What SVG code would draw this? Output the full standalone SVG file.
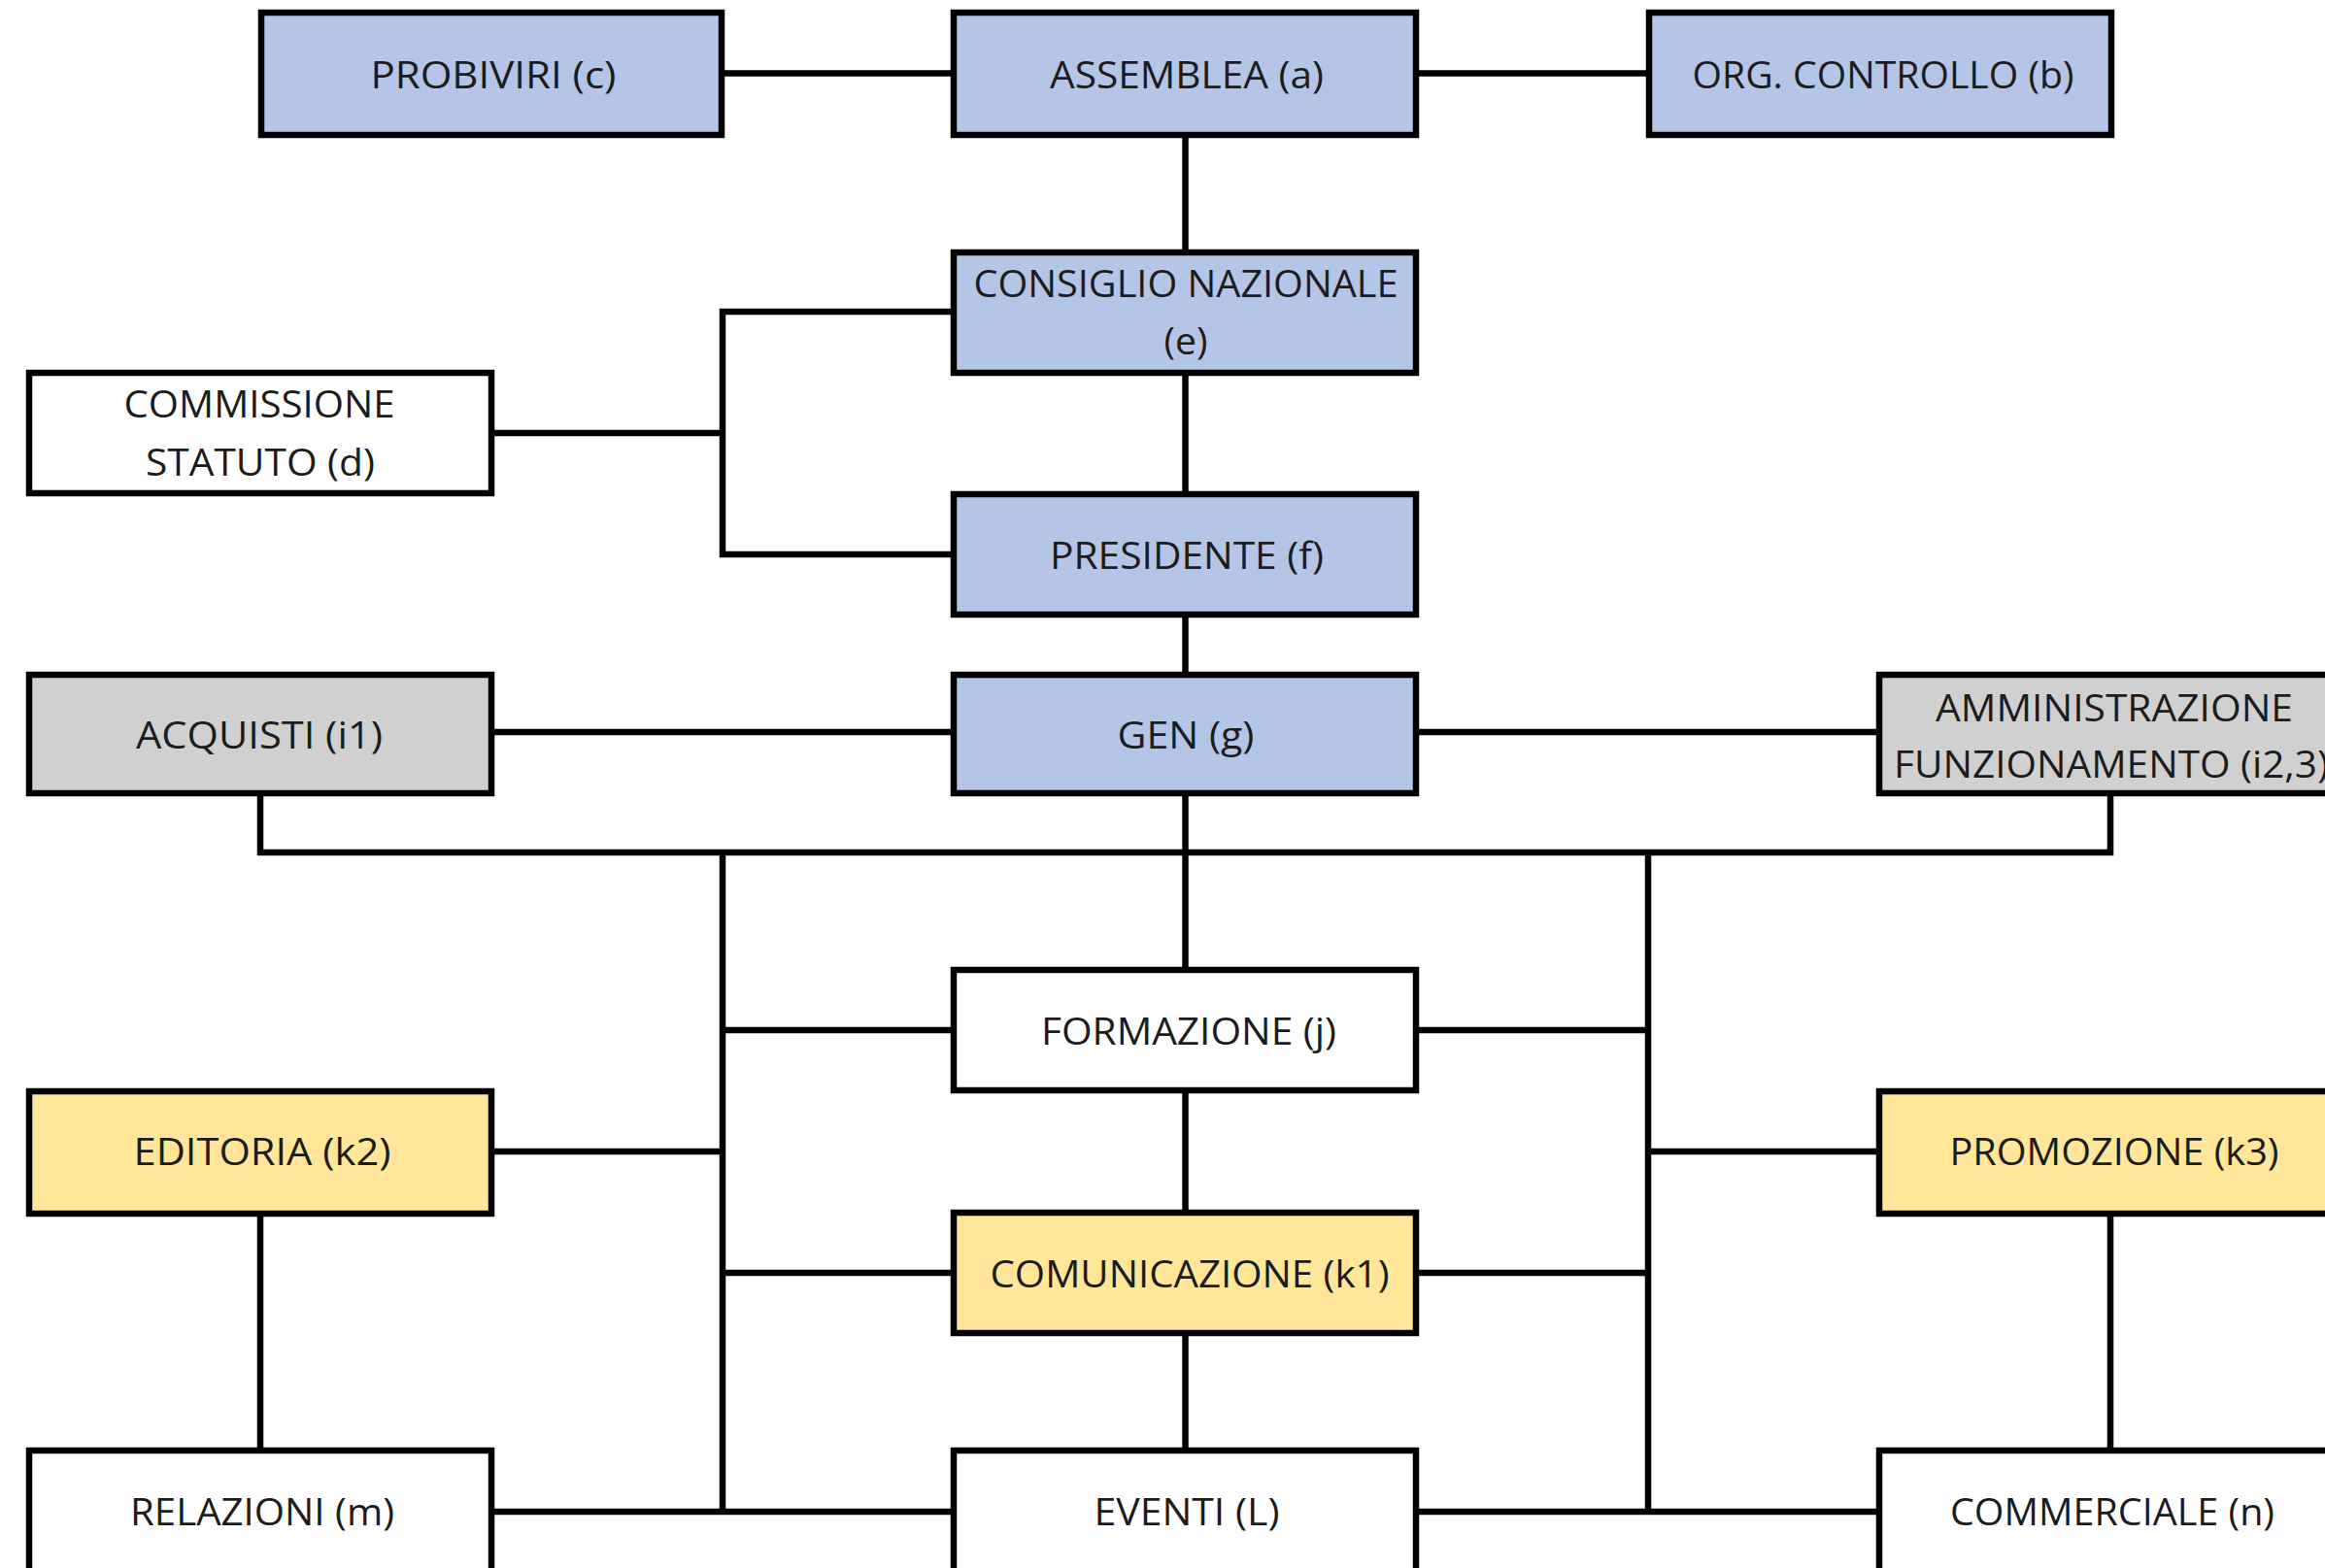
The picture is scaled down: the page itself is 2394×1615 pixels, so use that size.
<svg xmlns="http://www.w3.org/2000/svg" width="2394" height="1615" viewBox="0 0 2394 1615">
<style>
.b{stroke:#000;stroke-width:6.5}
.blue{fill:#B4C5E7}
.gray{fill:#D0D0D0}
.yel{fill:#FFE699}
.wht{fill:#FFFFFF}
text{font-family:"Open Sans","Noto Sans","Liberation Sans",sans-serif;font-size:39px;fill:#1c1c1c;text-anchor:middle}
.c{stroke:#000;stroke-width:6.5;fill:none}
</style>
<rect width="2394" height="1615" fill="#fff"/>
<g id="connectors">
<path class="c" d="M746 75.5H979M1461 75.5H1695"/>
<path class="c" d="M1220.5 142V257M1220.5 387V506M1220.5 636V692M1220.5 820V996M1220.5 1126V1246M1220.5 1376V1491"/>
<path class="c" d="M979 321H744V571H979M509 446H744"/>
<path class="c" d="M509 754H979M1461 754H1932"/>
<path class="c" d="M268 820V878H2173V820"/>
<path class="c" d="M744 878V1557M1697 878V1557"/>
<path class="c" d="M744 1061H979M1461 1061H1697M509 1186H744M1697 1186H1932M744 1311H979M1461 1311H1697M509 1557H979M1461 1557H1932"/>
<path class="c" d="M268 1253V1491M2173 1253V1491"/>
</g>
<g id="probiviri"><rect class="b blue" x="269" y="13" width="474" height="126"/><text x="508" y="91" textLength="253" lengthAdjust="spacingAndGlyphs">PROBIVIRI (c)</text></g>
<g id="assemblea"><rect class="b blue" x="982" y="13" width="476" height="126"/><text x="1222" y="91" textLength="282" lengthAdjust="spacingAndGlyphs">ASSEMBLEA (a)</text></g>
<g id="orgcontrollo"><rect class="b blue" x="1698" y="13" width="476" height="126"/><text x="1939" y="91" textLength="393" lengthAdjust="spacingAndGlyphs">ORG. CONTROLLO (b)</text></g>
<g id="consiglio"><rect class="b blue" x="982" y="260" width="476" height="124"/><text x="1221" y="306" textLength="437" lengthAdjust="spacingAndGlyphs">CONSIGLIO NAZIONALE</text><text x="1221" y="365">(e)</text></g>
<g id="commissione"><rect class="b wht" x="30" y="384" width="476" height="124"/><text x="267" y="430" textLength="279" lengthAdjust="spacingAndGlyphs">COMMISSIONE</text><text x="268" y="490" textLength="236" lengthAdjust="spacingAndGlyphs">STATUTO (d)</text></g>
<g id="presidente"><rect class="b blue" x="982" y="509" width="476" height="124"/><text x="1222" y="586" textLength="282" lengthAdjust="spacingAndGlyphs">PRESIDENTE (f)</text></g>
<g id="acquisti"><rect class="b gray" x="30" y="695" width="476" height="122"/><text x="267" y="771" textLength="254" lengthAdjust="spacingAndGlyphs">ACQUISTI (i1)</text></g>
<g id="gen"><rect class="b blue" x="982" y="695" width="476" height="122"/><text x="1221" y="771" textLength="141" lengthAdjust="spacingAndGlyphs">GEN (g)</text></g>
<g id="amministrazione"><rect class="b gray" x="1935" y="695" width="476" height="122"/><text x="2177" y="743" textLength="368" lengthAdjust="spacingAndGlyphs">AMMINISTRAZIONE</text><text x="1950" y="801" style="text-anchor:start" textLength="448" lengthAdjust="spacingAndGlyphs">FUNZIONAMENTO (i2,3)</text></g>
<g id="formazione"><rect class="b wht" x="982" y="999" width="476" height="124"/><text x="1224" y="1076" textLength="304" lengthAdjust="spacingAndGlyphs">FORMAZIONE (j)</text></g>
<g id="editoria"><rect class="b yel" x="30" y="1124" width="476" height="126"/><text x="270" y="1200" textLength="265" lengthAdjust="spacingAndGlyphs">EDITORIA (k2)</text></g>
<g id="promozione"><rect class="b yel" x="1935" y="1124" width="476" height="126"/><text x="2177" y="1200" textLength="339" lengthAdjust="spacingAndGlyphs">PROMOZIONE (k3)</text></g>
<g id="comunicazione"><rect class="b yel" x="982" y="1249" width="476" height="124"/><text x="1225" y="1326" textLength="411" lengthAdjust="spacingAndGlyphs">COMUNICAZIONE (k1)</text></g>
<g id="relazioni"><rect class="b wht" x="30" y="1494" width="476" height="200"/><text x="270" y="1571" textLength="272" lengthAdjust="spacingAndGlyphs">RELAZIONI (m)</text></g>
<g id="eventi"><rect class="b wht" x="982" y="1494" width="476" height="200"/><text x="1222" y="1571" textLength="191" lengthAdjust="spacingAndGlyphs">EVENTI (L)</text></g>
<g id="commerciale"><rect class="b wht" x="1935" y="1494" width="476" height="200"/><text x="2175" y="1571" textLength="334" lengthAdjust="spacingAndGlyphs">COMMERCIALE (n)</text></g>
</svg>
